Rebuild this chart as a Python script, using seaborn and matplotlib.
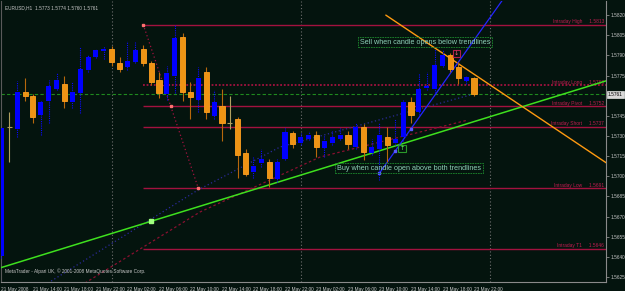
import matplotlib
matplotlib.use("Agg")
import matplotlib.pyplot as plt
import numpy as np
import pandas as pd
import seaborn as sns

# ------------------------------------------------------------------ data
symbol = "EURUSD,H1"
opens = [1.5641, 1.5737, 1.5735, 1.5763, 1.5760, 1.5746, 1.5756, 1.5765, 1.5769, 1.5755,
         1.5762, 1.5779, 1.5789, 1.5793, 1.5795, 1.5784, 1.5781, 1.5785, 1.5795, 1.5784,
         1.5772, 1.5761, 1.5775, 1.5804, 1.5763, 1.5757, 1.5778, 1.5745, 1.5752, 1.5740,
         1.5743, 1.5717, 1.5703, 1.5710, 1.5711, 1.5698, 1.5713, 1.5732, 1.5725, 1.5728,
         1.5731, 1.5721, 1.5725, 1.5728, 1.5731, 1.5722, 1.5737, 1.5717, 1.5720, 1.5729,
         1.5725, 1.5729, 1.5755, 1.5748, 1.5766, 1.5765, 1.5782, 1.5790, 1.5781, 1.5771,
         1.5773]
highs = [1.5737, 1.5748, 1.5771, 1.5773, 1.5761, 1.5756, 1.5772, 1.5777, 1.5775, 1.5770,
         1.5796, 1.5790, 1.5795, 1.5797, 1.5797, 1.5789, 1.5801, 1.5800, 1.5798, 1.5786,
         1.5778, 1.5782, 1.5813, 1.5807, 1.5770, 1.5781, 1.5781, 1.5764, 1.5765, 1.5760,
         1.5744, 1.5720, 1.5714, 1.5720, 1.5713, 1.5713, 1.5736, 1.5734, 1.5732, 1.5734,
         1.5734, 1.5731, 1.5734, 1.5736, 1.5734, 1.5740, 1.5739, 1.5728, 1.5740, 1.5737,
         1.5743, 1.5757, 1.5759, 1.5777, 1.5778, 1.5795, 1.5794, 1.5792, 1.5785, 1.5775,
         1.5774]
lows = [1.5639, 1.5711, 1.5729, 1.5756, 1.5740, 1.5731, 1.5740, 1.5764, 1.5751, 1.5751,
        1.5747, 1.5778, 1.5788, 1.5787, 1.5782, 1.5778, 1.5779, 1.5784, 1.5782, 1.5768,
        1.5758, 1.5757, 1.5762, 1.5756, 1.5743, 1.5748, 1.5743, 1.5743, 1.5726, 1.5735,
        1.5699, 1.5700, 1.5699, 1.5707, 1.5692, 1.5696, 1.5712, 1.5721, 1.5723, 1.5727,
        1.5714, 1.5714, 1.5723, 1.5727, 1.5720, 1.5720, 1.5712, 1.5716, 1.5697, 1.5711,
        1.5723, 1.5726, 1.5740, 1.5746, 1.5764, 1.5762, 1.5781, 1.5778, 1.5769, 1.5769,
        1.5760]
closes = [1.5736, 1.5737, 1.5763, 1.5760, 1.5744, 1.5755, 1.5767, 1.5772, 1.5756, 1.5763,
          1.5780, 1.5789, 1.5794, 1.5795, 1.5785, 1.5780, 1.5786, 1.5794, 1.5784, 1.5770,
          1.5762, 1.5777, 1.5803, 1.5763, 1.5759, 1.5773, 1.5748, 1.5755, 1.5740, 1.5740,
          1.5716, 1.5702, 1.5708, 1.5713, 1.5699, 1.5711, 1.5733, 1.5724, 1.5729, 1.5731,
          1.5722, 1.5726, 1.5729, 1.5731, 1.5724, 1.5737, 1.5718, 1.5722, 1.5731, 1.5723,
          1.5728, 1.5755, 1.5746, 1.5765, 1.5767, 1.5783, 1.5790, 1.5780, 1.5773, 1.5774,
          1.5761]

level_names = ["Intraday High", "Intraday Long", "Intraday Pivot",
               "Intraday Short", "Intraday Low", "Intraday T1"]
level_values = [1.5813, 1.5768, 1.5752, 1.5737, 1.5691, 1.5646]
level_start_bar = 18
current_price = 1.5761

green_tl_bars = [0, 60]
green_tl_prices = [1.56321, 1.57407]
orange_tl_bars = [48.8, 76.8]
orange_tl_prices = [1.58200, 1.57100]
blue_tl_bars = [48, 64.5]
blue_tl_prices = [1.57024, 1.58385]
blue_pt_bars = [48, 50, 52]
blue_pt_prices = [1.57024, 1.57188, 1.57352]
zigzag_bars = [18, 21.5, 25]
zigzag_prices = [1.5813, 1.5752, 1.5691]
navy_bars = [5.9, 24.95, 35.37, 59.5]
navy_prices = [1.56205, 1.56898, 1.57218, 1.57605]
maroon_bars = [10.6, 25.2, 40.44, 59.24]
maroon_prices = [1.56205, 1.56734, 1.57143, 1.57419]
green_mark_bar = 19
separator_bars = [14, 38, 62]

time_tick_bars = [0, 4, 8, 12, 16, 20, 24, 28, 32, 36, 40, 44, 48, 52, 56, 60]
time_tick_labels = ["21 May 2008", "21 May 14:00", "21 May 18:00", "21 May 22:00",
                    "22 May 02:00", "22 May 06:00", "22 May 10:00", "22 May 14:00",
                    "22 May 18:00", "22 May 22:00", "23 May 02:00", "23 May 06:00",
                    "23 May 10:00", "23 May 14:00", "23 May 18:00", "23 May 22:00"]
price_ticks = [1.5625, 1.5640, 1.5655, 1.5670, 1.5685, 1.5700, 1.5715,
               1.5730, 1.5745, 1.5775, 1.5790, 1.5805, 1.5820]

sell_text = "Sell when candle opens below trendlines"
buy_text = "Buy when candle open above both trendlines"
sell_pos = (53.8, 1.57999)
buy_pos = (51.75, 1.57061)
sell_arrow = (57.8, 1.57913)
buy_arrow = (50.85, 1.57206)
copyright_text = "MetaTrader - Alpari UK, \u00a9 2001-2008 MetaQuotes Software Corp."

# ------------------------------------------------------------------ style
BG = "#04140e"
AX = "#8a8a8a"
FG = "#c8c8c8"
sns.set_style("dark", rc={"axes.facecolor": BG, "figure.facecolor": BG,
                          "axes.edgecolor": AX, "xtick.color": AX, "ytick.color": AX})
plt.rcParams["font.family"] = ["Liberation Sans", "DejaVu Sans"]

fig = plt.figure(figsize=(6.25, 2.91), dpi=100)
ax = fig.add_axes([1 / 625, 9 / 291, 605 / 625, 281 / 291])
ax.set_facecolor(BG)
XMIN, XMAX = -0.06, 76.76
YMIN, YMAX = 1.56213, 1.58305
ax.set_xlim(XMIN, XMAX)
ax.set_ylim(YMIN, YMAX)

df = pd.DataFrame({"o": opens, "h": highs, "l": lows, "c": closes})
df["i"] = np.arange(len(df))
bull = df[df.c > df.o]
bear = df[df.c < df.o]
doji = df[df.c == df.o]
W = 0.64

# separators
for b in separator_bars:
    ax.axvline(b, color="#6e6e6e", lw=0.8, ls=(0, (1, 2)), zorder=1)

# pivot levels
for name, v in zip(level_names, level_values):
    ls = (0, (1, 1)) if name == "Intraday Long" else "-"
    lw = 1.3 if name == "Intraday Long" else 1.0
    ax.hlines(v, level_start_bar, XMAX, colors="#a3123f", lw=lw, ls=ls, zorder=2)
    ax.text(0.997, v + 0.00003, f"{name}     {v:.4f}", transform=ax.get_yaxis_transform(),
            ha="right", va="bottom", fontsize=3.5, color="#c01c50", zorder=3)

# current price line
ax.axhline(current_price, color="#1f8a1f", lw=0.8, ls=(0, (3, 2)), zorder=2)

# lines via seaborn
sns.lineplot(x=zigzag_bars[::2], y=zigzag_prices[::2], ax=ax, color="#a3123f",
             lw=0.9, ls=(0, (1, 2)), zorder=3)
ax.plot(zigzag_bars, zigzag_prices, ls="none", marker="s", ms=2, color="#ff7070",
        mec="#ff7070", zorder=4)
sns.lineplot(x=navy_bars, y=navy_prices, ax=ax, color="#2a2a9a", lw=0.9,
             ls=(0, (1, 2)), sort=False, zorder=3)
sns.lineplot(x=maroon_bars, y=maroon_prices, ax=ax, color="#8a1030", lw=0.9,
             ls=(0, (2, 2)), sort=False, zorder=3)

g_slope = (green_tl_prices[1] - green_tl_prices[0]) / (green_tl_bars[1] - green_tl_bars[0])
gx = [XMIN, XMAX]
gy = [green_tl_prices[0] + g_slope * (x - green_tl_bars[0]) for x in gx]
sns.lineplot(x=gx, y=gy, ax=ax, color="#3ee01e", lw=1.1, zorder=5)
ax.plot([green_mark_bar], [green_tl_prices[0] + g_slope * green_mark_bar], "s",
        ms=2.2, color="#a0ff80", zorder=6)

sns.lineplot(x=orange_tl_bars, y=orange_tl_prices, ax=ax, color="#ff9a10", lw=1.0, zorder=5)
sns.lineplot(x=blue_tl_bars, y=blue_tl_prices, ax=ax, color="#2525ff", lw=0.9, zorder=5)
ax.plot(blue_pt_bars, blue_pt_prices, "s", ms=2, color="#5a5aff", zorder=6)

# candles
ax.vlines(bull.i, bull.l, bull.h, colors="#0a0aff", lw=0.8, ls=(0, (1, 1)), zorder=7)
ax.vlines(bear.i, bear.l, bear.h, colors="#b8680c", lw=0.8, zorder=7)
ax.vlines(doji.i, doji.l, doji.h, colors="#b0a060", lw=0.8, zorder=7)
ax.hlines(doji.o, doji.i - W / 2, doji.i + W / 2, colors="#b0a060", lw=0.8, zorder=8)
ax.bar(bull.i, bull.c - bull.o, bottom=bull.o, width=W, color="#0000ff", lw=0, zorder=8)
ax.bar(bear.i, bear.o - bear.c, bottom=bear.c, width=W, color="#ee9414",
       edgecolor="#ffa020", lw=0.6, zorder=8)

# signal text boxes
box = dict(boxstyle="square,pad=0.25", fc="none", ec="#1e8a2e", lw=0.6, ls=(0, (2, 1)))
ax.text(*sell_pos, sell_text, ha="center", va="center", fontsize=5.2, color="#8fd0b8",
        bbox=box, zorder=9)
ax.text(*buy_pos, buy_text, ha="center", va="center", fontsize=5.2, color="#8fd0b8",
        bbox=box, zorder=9)
ax.text(*sell_arrow, "\u2193", ha="center", va="center", fontsize=4.5, color="#ff6080",
        family="DejaVu Sans",
        bbox=dict(boxstyle="square,pad=0.15", fc="none", ec="#b0204a", lw=0.8), zorder=9)
ax.text(*buy_arrow, "\u2191", ha="center", va="center", fontsize=4.5, color="#60ff60",
        family="DejaVu Sans",
        bbox=dict(boxstyle="square,pad=0.15", fc="none", ec="#2a9a2a", lw=0.8), zorder=9)

# header / footer text
ax.text(0.006, 0.985, f"{symbol}  {opens[-1]:.4f} {highs[-1]:.4f} {lows[-1]:.4f} {closes[-1]:.4f}",
        transform=ax.transAxes, ha="left", va="top", fontsize=3.4, color=FG)
ax.text(0.006, 0.03, copyright_text, transform=ax.transAxes, ha="left", va="bottom",
        fontsize=3.4, color=FG)

# axes
ax.spines["top"].set_visible(False)
ax.spines["left"].set_color("#5a5a5a")
ax.spines["left"].set_linewidth(0.8)
ax.spines["right"].set_color(AX)
ax.spines["bottom"].set_color(AX)
ax.spines["right"].set_linewidth(0.8)
ax.spines["bottom"].set_linewidth(0.8)
ax.yaxis.tick_right()
ax.set_yticks(price_ticks)
ax.set_yticklabels([f"{p:.4f}" for p in price_ticks], fontsize=3.4, color=FG)
ax.tick_params(axis="y", length=2, width=0.6, pad=1.5)
ax.set_xticks(time_tick_bars)
ax.set_xticklabels(time_tick_labels, fontsize=3.4, color=FG)
for lab in ax.get_xticklabels():
    lab.set_horizontalalignment("left")
ax.tick_params(axis="x", length=2.5, width=0.6, pad=0.8)
ax.text(1.003, current_price, f"{current_price:.4f}", transform=ax.get_yaxis_transform(),
        ha="left", va="center", fontsize=3.4, color="#000000",
        bbox=dict(boxstyle="square,pad=0.2", fc="#d8d8d8", ec="#ffffff", lw=0.4), zorder=10,
        clip_on=False)
ax.set_xlabel("")
ax.set_ylabel("")
ax.grid(False)

fig.savefig("out.png", dpi=100, facecolor=BG)
